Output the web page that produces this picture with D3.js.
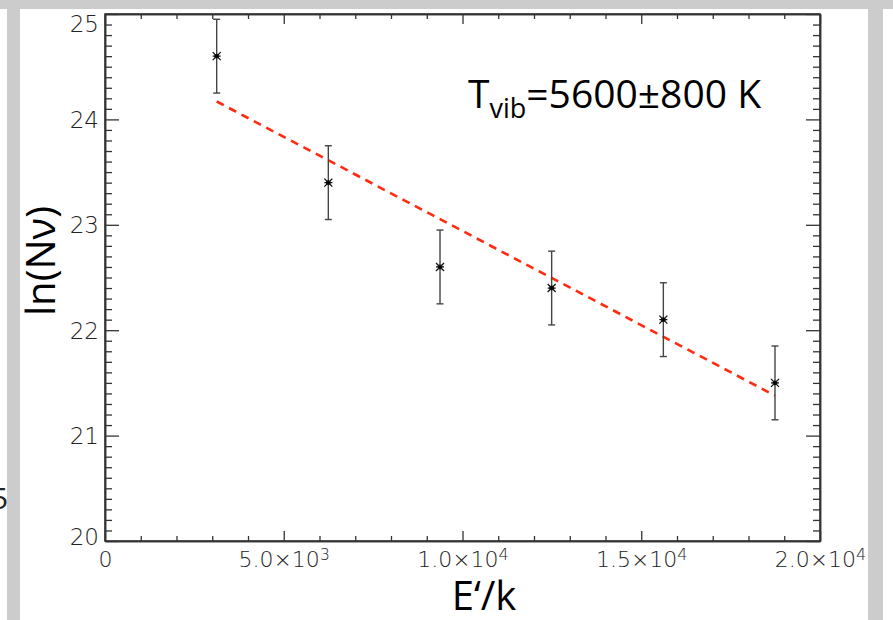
<!DOCTYPE html>
<html>
<head>
<meta charset="utf-8">
<script src="https://cdn.jsdelivr.net/npm/d3@7"></script>
<style>
  body { margin: 0; background: #fff; }
  svg { display: block; }
</style>
</head>
<body>
<script>
// energies E'/k (K) and ln(N_v) with symmetric errors
const energies = [3124, 6247, 9371, 12494, 15618, 18741];
const lnN = [24.60, 23.40, 22.60, 22.40, 22.10, 21.50];
const lnErr = [0.35, 0.35, 0.35, 0.35, 0.35, 0.35];

// Boltzmann fit, T_vib = 5600 K
const fitX = [3124, 18741];
const fitY = [24.17, 21.38];

const xTicks = [0, 5000, 10000, 15000, 20000];
const xTickMant = ["0", "5.0×10", "1.0×10", "1.5×10", "2.0×10"];
const xTickExp = ["", "3", "4", "4", "4"];
const yTicks = [20, 21, 22, 23, 24, 25];
const yTickLabels = ["20", "21", "22", "23", "24", "25"];

const width = 893, height = 620;
const svg = d3.select("body").append("svg")
    .attr("width", width)
    .attr("height", height);

// grey frame bits from the original screenshot
svg.append("rect").attr("x", 0).attr("y", 0).attr("width", width).attr("height", 9).attr("fill", "#cccccc");
svg.append("rect").attr("x", 7).attr("y", 0).attr("width", 13).attr("height", height).attr("fill", "#cccccc");
svg.append("rect").attr("x", 868).attr("y", 0).attr("width", 15).attr("height", height).attr("fill", "#cccccc");
svg.append("text").attr("x", -9).attr("y", 509)
    .attr("font-family", "Open Sans").attr("font-size", 30).attr("fill", "#222").text("5");

const x = d3.scaleLinear().domain([0, 20000]).range([105, 820]);
const y = d3.scaleLinear().domain([20, 25]).range([541, 14]);

const axisColor = "#333";
const tickFont = "DejaVu Sans";

function styleAxis(g) {
    g.select(".domain").attr("stroke", axisColor).attr("stroke-width", 1.5);
    g.selectAll(".tick line").attr("stroke", axisColor).attr("stroke-width", 1.3);
}

const xMinor = d3.range(0, 20001, 1000).filter(v => v % 5000 !== 0);
const yMinor = d3.range(200, 251, 1).map(v => v / 10).filter(v => Math.abs(v - Math.round(v)) > 1e-6);

// minor ticks first
svg.append("g").attr("transform", `translate(0,${y(20)})`)
    .call(d3.axisBottom(x).tickValues(xMinor).tickSize(-5).tickSizeOuter(0).tickFormat(""))
    .call(styleAxis);
svg.append("g").attr("transform", `translate(0,${y(25)})`)
    .call(d3.axisTop(x).tickValues(xMinor).tickSize(-5).tickSizeOuter(0).tickFormat(""))
    .call(styleAxis);
svg.append("g").attr("transform", `translate(${x(0)},0)`)
    .call(d3.axisLeft(y).tickValues(yMinor).tickSize(-7).tickSizeOuter(0).tickFormat(""))
    .call(styleAxis);
svg.append("g").attr("transform", `translate(${x(20000)},0)`)
    .call(d3.axisRight(y).tickValues(yMinor).tickSize(-7).tickSizeOuter(0).tickFormat(""))
    .call(styleAxis);

// major ticks
const xBottom = svg.append("g").attr("transform", `translate(0,${y(20)})`)
    .call(d3.axisBottom(x).tickValues(xTicks).tickSize(-10).tickSizeOuter(0).tickPadding(9)
        .tickFormat((d, i) => xTickMant[i]))
    .call(styleAxis);
xBottom.selectAll(".tick text")
    .attr("font-family", tickFont).attr("font-weight", 200)
    .attr("font-size", 22).attr("fill", "#222")
    .attr("dy", "0.78em")
    .each(function(d, i) {
        if (xTickExp[i]) {
            d3.select(this).append("tspan")
                .attr("dy", "-0.45em").attr("font-size", 16).text(xTickExp[i]);
        }
    });

svg.append("g").attr("transform", `translate(0,${y(25)})`)
    .call(d3.axisTop(x).tickValues(xTicks).tickSize(-10).tickSizeOuter(0).tickFormat(""))
    .call(styleAxis);

const yLeft = svg.append("g").attr("transform", `translate(${x(0)},0)`)
    .call(d3.axisLeft(y).tickValues(yTicks).tickSize(-14).tickSizeOuter(0).tickPadding(6)
        .tickFormat((d, i) => yTickLabels[i]))
    .call(styleAxis);
yLeft.selectAll(".tick text")
    .attr("font-family", tickFont).attr("font-weight", 200)
    .attr("font-size", 23).attr("fill", "#222")
    .attr("dy", d => d === 25 ? "0.75em" : d === 20 ? "0.15em" : "0.35em");

svg.append("g").attr("transform", `translate(${x(20000)},0)`)
    .call(d3.axisRight(y).tickValues(yTicks).tickSize(-14).tickSizeOuter(0).tickFormat(""))
    .call(styleAxis);

// frame
svg.append("rect")
    .attr("x", x(0)).attr("y", y(25))
    .attr("width", x(20000) - x(0)).attr("height", y(20) - y(25))
    .attr("fill", "none").attr("stroke", axisColor).attr("stroke-width", 1.5);

// fit line
svg.append("line")
    .attr("x1", x(fitX[0])).attr("y1", y(fitY[0]))
    .attr("x2", x(fitX[1])).attr("y2", y(fitY[1]))
    .attr("stroke", "#ff2a10").attr("stroke-width", 2.6)
    .attr("stroke-dasharray", "8,6");

// error bars
const pts = energies.map((e, i) => ({e: e, v: lnN[i], err: lnErr[i]}));
const bars = svg.append("g").attr("stroke", "#444").attr("stroke-width", 1.4);
bars.selectAll(".eb").data(pts).join("line")
    .attr("x1", d => x(d.e)).attr("x2", d => x(d.e))
    .attr("y1", d => y(d.v - d.err)).attr("y2", d => y(d.v + d.err));
bars.selectAll(".capTop").data(pts).join("line")
    .attr("x1", d => x(d.e) - 3.5).attr("x2", d => x(d.e) + 3.5)
    .attr("y1", d => y(d.v + d.err)).attr("y2", d => y(d.v + d.err));
bars.selectAll(".capBot").data(pts).join("line")
    .attr("x1", d => x(d.e) - 3.5).attr("x2", d => x(d.e) + 3.5)
    .attr("y1", d => y(d.v - d.err)).attr("y2", d => y(d.v - d.err));

// asterisk markers
const s = 4;
const markers = svg.append("g").attr("stroke", "#111").attr("stroke-width", 1.3);
markers.selectAll("path").data(pts).join("path")
    .attr("d", d => {
        const cx = x(d.e), cy = y(d.v);
        return `M${cx - s},${cy - s}L${cx + s},${cy + s}M${cx - s},${cy + s}L${cx + s},${cy - s}` +
            `M${cx - s},${cy}L${cx + s},${cy}`;
    });
markers.selectAll("circle").data(pts).join("circle")
    .attr("cx", d => x(d.e)).attr("cy", d => y(d.v)).attr("r", 1.8).attr("fill", "#000");

// axis titles
svg.append("text")
    .attr("transform", "translate(55,261) rotate(-90)")
    .attr("text-anchor", "middle")
    .attr("font-family", "Open Sans").attr("font-size", 40).attr("fill", "#000")
    .text("ln(Nν)");

svg.append("text")
    .attr("x", 484).attr("y", 610)
    .attr("text-anchor", "middle")
    .attr("font-family", "Open Sans").attr("font-size", 40).attr("fill", "#000")
    .text("E‘/k");

// annotation
const ann = svg.append("text")
    .attr("x", 468).attr("y", 108)
    .attr("font-family", "Open Sans").attr("font-size", 39).attr("fill", "#000");
ann.append("tspan").text("T");
ann.append("tspan").attr("dy", 10).attr("font-size", 27).text("vib");
ann.append("tspan").attr("dy", -10).text("=5600±800 K");
</script>
</body>
</html>
